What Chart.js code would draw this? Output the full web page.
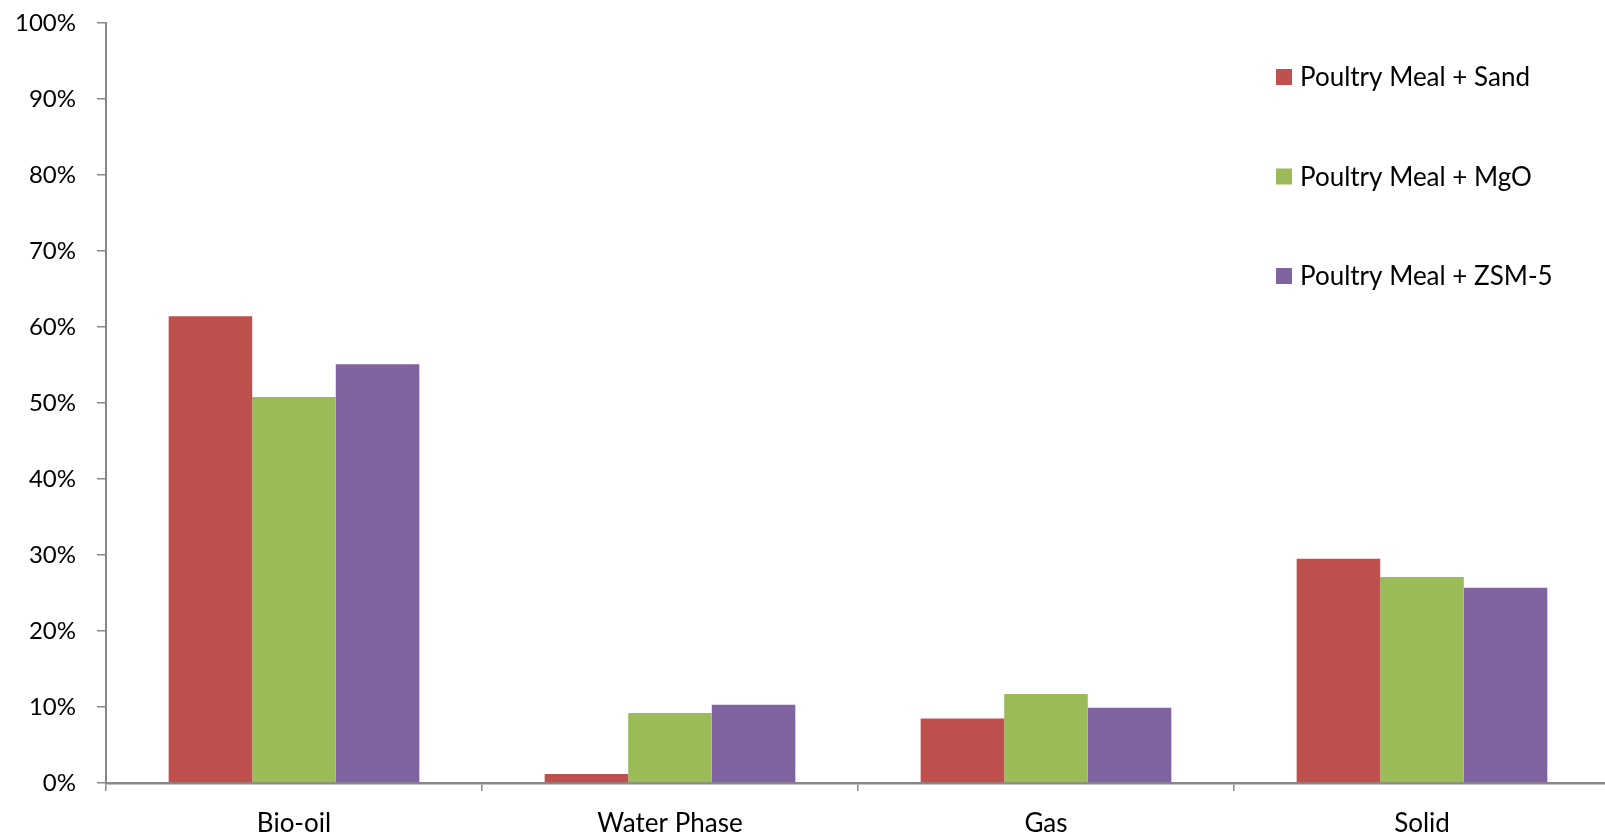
<!DOCTYPE html>
<html>
<head>
<meta charset="utf-8">
<script src="https://cdn.jsdelivr.net/npm/chart.js@4/dist/chart.umd.min.js"></script>
<style>
  html, body { margin: 0; padding: 0; background: #fff; overflow: hidden; }
  #wrap { width: 1610px; height: 838px; }
</style>
</head>
<body>
<div id="wrap"><canvas id="c" width="1610" height="838"></canvas></div>
<script>
// Product yield distribution (fraction of feed, %)
const categories = ['Bio-oil', 'Water Phase', 'Gas', 'Solid'];
const seriesNames = ['Poultry Meal + Sand', 'Poultry Meal + MgO', 'Poultry Meal + ZSM-5'];
const sandValues = [61.4, 1.2, 8.5, 29.5];
const mgoValues  = [50.8, 9.2, 11.7, 27.1];
const zsmValues  = [55.1, 10.3, 9.9, 25.7];
const yTicks = [0, 10, 20, 30, 40, 50, 60, 70, 80, 90, 100];

const colors = ['#C0504D', '#9BBB59', '#8064A2'];
const FONT = 'Lato, "Open Sans", sans-serif';
const AXIS = '#888888';

// Legend drawn as a stacked list in the upper right of the plot
const sideLegend = {
  id: 'sideLegend',
  afterDraw(chart, args, opts) {
    const ctx = chart.ctx;
    ctx.save();
    ctx.font = opts.fontSize + 'px ' + FONT;
    ctx.textBaseline = 'middle';
    ctx.textAlign = 'left';
    chart.data.datasets.forEach((ds, i) => {
      const cy = opts.top + i * opts.rowGap;
      ctx.fillStyle = ds.backgroundColor;
      ctx.fillRect(opts.left, cy - opts.box / 2, opts.box, opts.box);
      ctx.fillStyle = '#000';
      ctx.fillText(ds.label, opts.left + opts.box + 8, cy + 1);
    });
    ctx.restore();
  }
};

const datasets = [sandValues, mgoValues, zsmValues].map((vals, i) => ({
  label: seriesNames[i],
  data: vals,
  backgroundColor: colors[i],
  borderWidth: 0,
  categoryPercentage: 0.6667,
  barPercentage: 1.0
}));

new Chart(document.getElementById('c'), {
  type: 'bar',
  data: { labels: categories, datasets },
  options: {
    responsive: false,
    animation: false,
    devicePixelRatio: 1,
    layout: { padding: { top: 23, right: 0, left: 0, bottom: 0 } },
    plugins: {
      legend: { display: false },
      tooltip: { enabled: false },
      sideLegend: { left: 1276, top: 77, rowGap: 99.5, box: 16, fontSize: 26 }
    },
    scales: {
      x: {
        offset: true,
        grid: { offset: true, drawOnChartArea: false, drawTicks: true, tickLength: 8, color: AXIS, lineWidth: 1.5 },
        border: { display: true, color: AXIS, width: 2.5 },
        ticks: { color: '#000', font: { family: FONT, size: 26 }, padding: 17 },
        afterFit(scale) { scale.height = 55; }
      },
      y: {
        min: 0, max: 100,
        afterBuildTicks(scale) { scale.ticks = yTicks.map(v => ({ value: v })); },
        grid: { drawOnChartArea: false, drawTicks: true, tickLength: 9, color: AXIS, lineWidth: 1.5 },
        border: { display: true, color: AXIS, width: 2 },
        ticks: {
          color: '#000', font: { family: FONT, size: 24 }, padding: 21,
          callback: v => v + '%'
        },
        afterFit(scale) {
          scale.width = 106;
          scale.paddingTop = 0;
          scale.paddingBottom = 0;
        }
      }
    }
  },
  plugins: [sideLegend]
});
</script>
</body>
</html>
